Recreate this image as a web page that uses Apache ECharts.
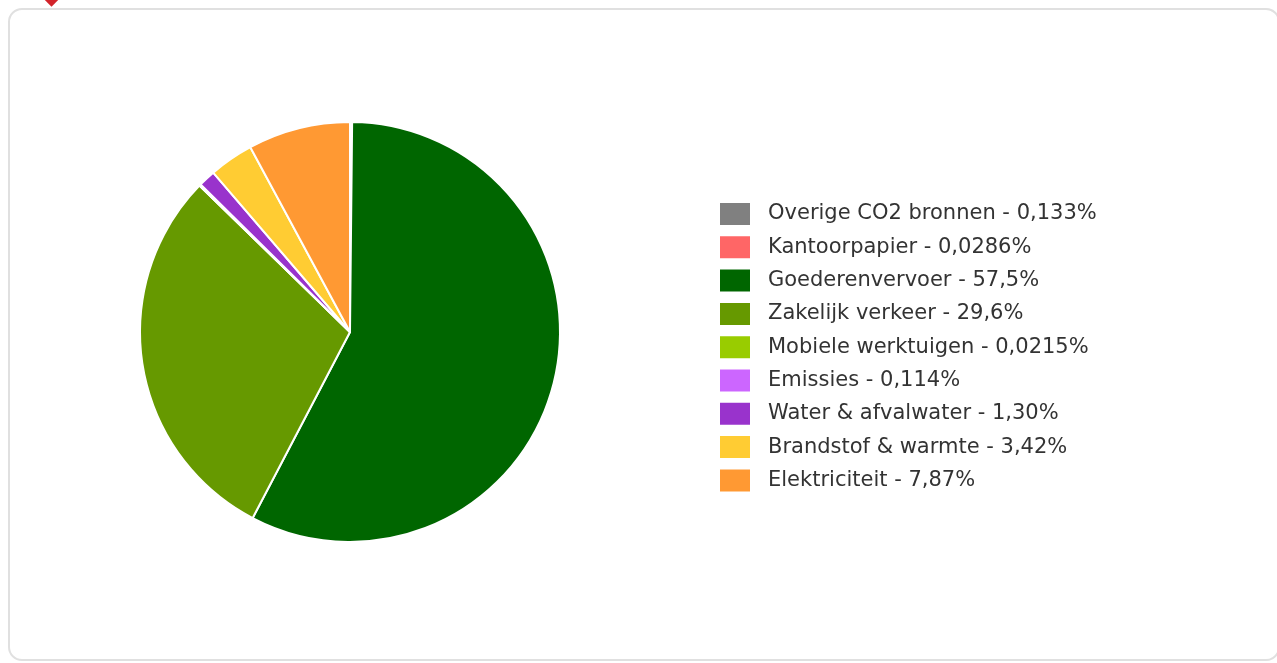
<!DOCTYPE html>
<html>
<head>
    <meta charset="utf-8" />
    <title>CO2 footprint</title>
    <script src="https://cdn.jsdelivr.net/npm/echarts@6/dist/echarts.min.js"></script>
    <style>
        html, body { margin: 0; padding: 0; background: #fff; overflow: hidden; }
        #card {
            position: absolute; left: 8px; top: 8px; width: 1272px; height: 653px;
            border: 2px solid #e0e0e0; border-radius: 14px; box-sizing: border-box;
        }
        #mark {
            position: absolute; left: 45px; top: -9px; width: 13px; height: 13px;
            background: #d2232a; transform: rotate(45deg);
        }
        #main { position: absolute; left: 0; top: 0; width: 1277px; height: 663px; }
    </style>
</head>
<body>
    <div id="card"></div>
    <div id="mark"></div>
    <div id="main"></div>
    <script type="text/javascript">
        // categorieen en aandeel (%) zoals in de legenda
        var names = ['Overige CO2 bronnen', 'Kantoorpapier', 'Goederenvervoer', 'Zakelijk verkeer',
            'Mobiele werktuigen', 'Emissies', 'Water & afvalwater', 'Brandstof & warmte', 'Elektriciteit'];
        var shares = [0.133, 0.0286, 57.5, 29.6, 0.0215, 0.114, 1.30, 3.42, 7.87];
        var colors = ['#808080', '#ff6666', '#006600', '#669900', '#99cc00',
            '#cc66ff', '#9933cc', '#ffcc33', '#ff9933'];

        var pieData = [];
        for (var i = 0; i < names.length; i++) {
            pieData.push({ name: names[i], value: shares[i], itemStyle: { color: colors[i] } });
        }

        function fmt(v) {
            return v.toPrecision(3).replace('.', ',') + '%';
        }

        var myChart = echarts.init(document.getElementById('main'));
        myChart.setOption({
            animation: false,
            legend: {
                orient: 'vertical',
                left: 718,
                top: 201,
                padding: 0,
                itemWidth: 32,
                itemHeight: 24,
                itemGap: 7.3,
                icon: 'rect',
                selectedMode: false,
                textStyle: {
                    fontFamily: 'DejaVu Sans',
                    fontSize: 21,
                    lineHeight: 22,
                    color: '#333',
                    padding: [0, 0, 0, 12]
                },
                formatter: function (name) {
                    return name + ' - ' + fmt(shares[names.indexOf(name)]);
                },
                data: names
            },
            series: [{
                type: 'pie',
                center: [350, 332],
                radius: [0, 210],
                startAngle: 90,
                clockwise: true,
                silent: true,
                label: { show: false },
                labelLine: { show: false },
                itemStyle: { borderColor: '#fff', borderWidth: 2 },
                data: pieData
            }]
        });
    </script>
</body>
</html>
